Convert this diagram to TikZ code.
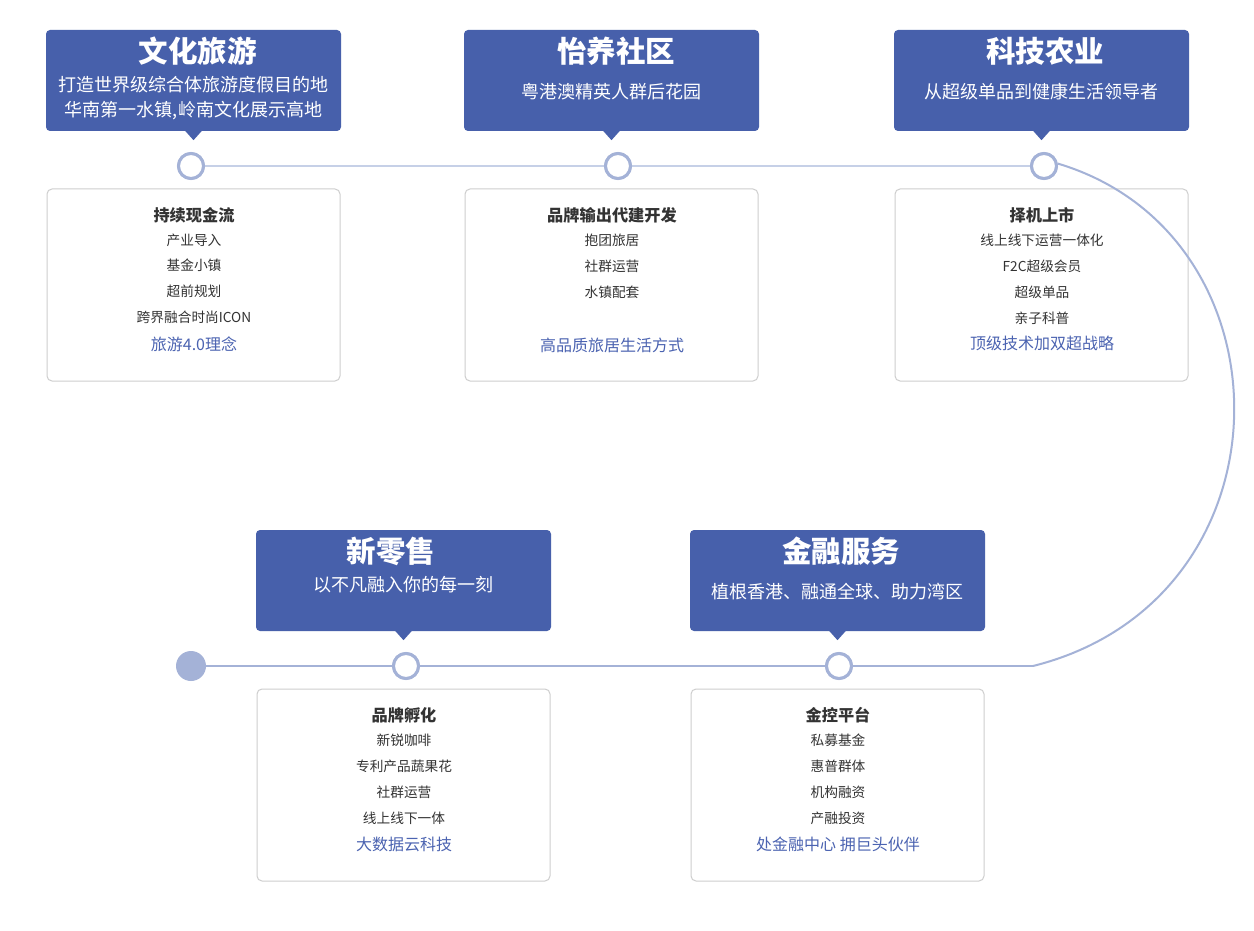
\documentclass[tikz,border=0pt]{standalone}
\usepackage{fontspec}
\setmainfont{Noto Sans CJK SC}
\usetikzlibrary{calc}
\definecolor{hdr}{RGB}{71,96,171}
\definecolor{ring}{RGB}{164,178,215}
\definecolor{toplin}{RGB}{198,208,231}
\definecolor{boxline}{RGB}{206,206,206}
\definecolor{dark}{RGB}{51,51,51}
\definecolor{bluetxt}{RGB}{75,99,177}
\tikzset{
  hdrbox/.style={fill=hdr, draw=none, rounded corners=4pt, minimum width=295pt, minimum height=101pt, inner sep=0pt},
  ttl/.style={text=white, inner sep=0pt, font=\fontsize{29.5}{34}\selectfont\bfseries},
  sub/.style={text=white, inner sep=0pt, font=\fontsize{18}{21}\selectfont},
  cbox/.style={draw=boxline, line width=1pt, rounded corners=5pt, minimum width=293pt, minimum height=192pt, inner sep=0pt},
  ctitle/.style={text=dark, inner sep=0pt, font=\fontsize{16.2}{19}\selectfont\bfseries},
  item/.style={text=dark, inner sep=0pt, font=\fontsize{13.7}{16}\selectfont},
  btxt/.style={text=bluetxt, inner sep=0pt, font=\fontsize{16}{19}\selectfont},
  ringnode/.style={circle, draw=ring, line width=3pt, fill=white, minimum size=25pt, inner sep=0pt},
  dotnode/.style={circle, fill=ring, draw=none, minimum size=30pt, inner sep=0pt},
  conn/.style={draw=ring, line width=2pt},
  topconn/.style={draw=toplin, line width=2pt}
}
\newcommand{\pointer}[1]{\fill[hdr] ($(#1.south)+(-8.5,-0.5)$) -- ($(#1.south)+(8.5,-0.5)$) -- ($(#1.south)+(0,9)$) -- cycle;}
\begin{document}
\begin{tikzpicture}[x=1pt,y=-1pt]
\useasboundingbox (0,0) rectangle (1254,931);
\fill[white] (0,0) rectangle (1254,931);

% ---------- content boxes (frames only) ----------
\node[cbox] (b1) at (193.5,285) {};
\node[cbox] (b2) at (611.5,285) {};
\node[cbox] (b3) at (1041.5,285) {};
\node[cbox] (b4) at (403.5,785) {};
\node[cbox] (b5) at (837.5,785) {};

% ---------- connectors ----------
\coordinate (cend) at (1033,666);
\node[ringnode] (c1) at (191,166) {};
\node[ringnode] (c2) at (618,166) {};
\node[ringnode] (c3) at (1044,166) {};
\node[dotnode] (d0) at (191,666) {};
\node[ringnode] (d1) at (406,666) {};
\node[ringnode] (d2) at (839,666) {};
\path[topconn] (c1) -- (c2);
\path[topconn] (c2) -- (c3);
\path[conn] (c3.10) .. controls (1297,235) and (1297,600) .. (cend);
\path[conn] (cend) -- (d2);
\path[conn] (d2) -- (d1);
\path[conn] (d1) -- (d0);
% redraw rings on top
\node[ringnode] at (c1) {};
\node[ringnode] at (c2) {};
\node[ringnode] at (c3) {};
\node[ringnode] at (d1) {};
\node[ringnode] at (d2) {};

% ---------- headers ----------
\node[hdrbox] (h1) at (193.5,80.5) {};
\pointer{h1}
\node[ttl] (h1t) at (197.5,51) {文化旅游};
\node[sub] (h1s) at (193.5,85) {打造世界级综合体旅游度假目的地};
\node[sub] (h1u) at (193.5,111) {华南第一水镇,岭南文化展示高地};

\node[hdrbox] (h2) at (611.5,80.5) {};
\pointer{h2}
\node[ttl] (h2t) at (616,51) {怡养社区};
\node[sub] (h2s) at (611.5,92) {粤港澳精英人群后花园};

\node[hdrbox] (h3) at (1041.5,80.5) {};
\pointer{h3}
\node[ttl] (h3t) at (1045,51) {科技农业};
\node[sub] (h3s) at (1041.5,92) {从超级单品到健康生活领导者};

\node[hdrbox] (h4) at (403.5,580.5) {};
\pointer{h4}
\node[ttl] (h4t) at (391,551) {新零售};
\node[sub] (h4s) at (403.5,585) {以不凡融入你的每一刻};

\node[hdrbox] (h5) at (837.5,580.5) {};
\pointer{h5}
\node[ttl] (h5t) at (841,551) {金融服务};
\node[sub] (h5s) at (837.5,592) {植根香港、融通全球、助力湾区};

% ---------- box texts ----------
\node[ctitle] (b1t) at (194,215) {持续现金流};
\node[item] (b1a) at (194,240) {产业导入};
\node[item] (b1b) at (194,265) {基金小镇};
\node[item] (b1c) at (194,291) {超前规划};
\node[item] (b1d) at (194,317) {跨界融合时尚ICON};
\node[btxt] (b1e) at (194,344) {旅游4.0理念};

\node[ctitle] (b2t) at (612,215) {品牌输出代建开发};
\node[item] (b2a) at (612,240) {抱团旅居};
\node[item] (b2b) at (612,266) {社群运营};
\node[item] (b2c) at (612,292) {水镇配套};
\node[btxt] (b2e) at (612,345) {高品质旅居生活方式};

\node[ctitle] (b3t) at (1042,215) {择机上市};
\node[item] (b3a) at (1042,240) {线上线下运营一体化};
\node[item] (b3b) at (1042,266) {F2C超级会员};
\node[item] (b3c) at (1042,292) {超级单品};
\node[item] (b3d) at (1042,318) {亲子科普};
\node[btxt] (b3e) at (1042,343) {顶级技术加双超战略};

\node[ctitle] (b4t) at (404,715) {品牌孵化};
\node[item] (b4a) at (404,740) {新锐咖啡};
\node[item] (b4b) at (404,766) {专利产品蔬果花};
\node[item] (b4c) at (404,792) {社群运营};
\node[item] (b4d) at (404,818) {线上线下一体};
\node[btxt] (b4e) at (404,844) {大数据云科技};

\node[ctitle] (b5t) at (838,715) {金控平台};
\node[item] (b5a) at (838,740) {私募基金};
\node[item] (b5b) at (838,766) {惠普群体};
\node[item] (b5c) at (838,792) {机构融资};
\node[item] (b5d) at (838,818) {产融投资};
\node[btxt] (b5e) at (838,844) {处金融中心 拥巨头伙伴};
\end{tikzpicture}
\end{document}
